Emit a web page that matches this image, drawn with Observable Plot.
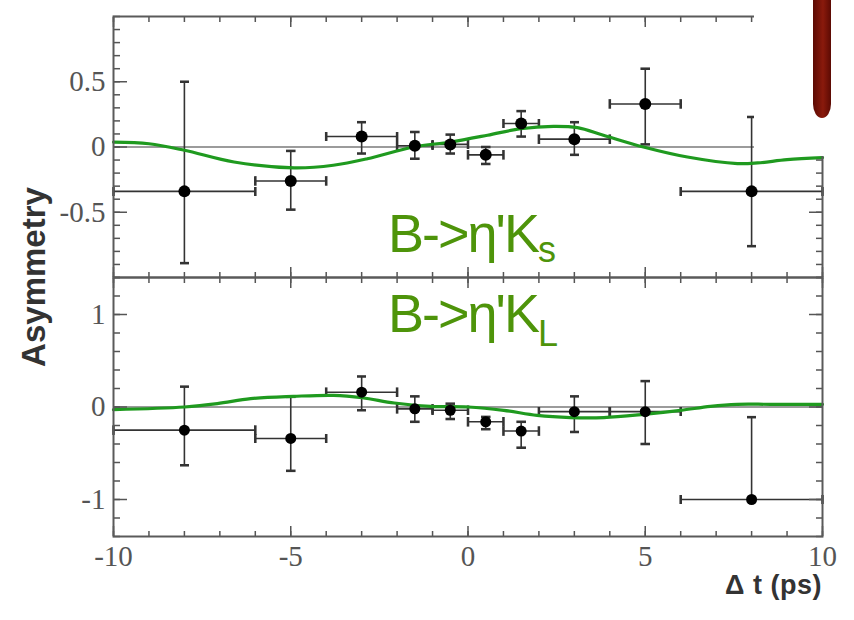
<!DOCTYPE html>
<html>
<head>
<meta charset="utf-8">
<script src="https://cdn.jsdelivr.net/npm/d3@7"></script>
<script src="https://cdn.jsdelivr.net/npm/@observablehq/plot@0.6"></script>
<style>
  body { margin: 0; background: white; }
  #wrap { position: relative; width: 854px; height: 620px; background: white; overflow: hidden; }
  #wrap svg { position: absolute; left: 0; }
  .green { position: absolute; font-family: "Liberation Sans", Arial, sans-serif; color: #4e940a; font-size: 54px; line-height: 1; letter-spacing: -2px; white-space: nowrap; }
  .green span { font-size: 36px; position: relative; letter-spacing: 0; }
</style>
</head>
<body>
<div id="wrap"></div>
<script>
// ---- Data: B -> eta' Ks (top panel) ----
const binX    = [-8, -5, -3, -1.5, -0.5, 0.5, 1.5, 3, 5, 8];
const binXlo  = [-10, -6, -4, -2, -1, 0, 1, 2, 4, 6];
const binXhi  = [-6, -4, -2, -1, 0, 1, 2, 4, 6, 10];

const ksY   = [-0.34, -0.26, 0.08, 0.01, 0.02, -0.06, 0.18, 0.06, 0.33, -0.34];
const ksYlo = [-0.89, -0.48, -0.05, -0.09, -0.05, -0.13, 0.08, -0.06, 0.02, -0.76];
const ksYhi = [0.50, -0.03, 0.19, 0.115, 0.095, 0.0, 0.275, 0.19, 0.60, 0.23];

const ksFitX = [-10, -9, -8, -6.6, -4.9, -3.8, -2.84, -1.54, -0.5, 0.55, 1.48, 2.41, 3.09, 3.82, 4.95, 6.19, 7.6, 8.17, 9.0, 10];
const ksFitY = [0.038, 0.025, -0.025, -0.115, -0.16, -0.14, -0.09, 0.0, 0.038, 0.09, 0.14, 0.158, 0.148, 0.09, 0.0, -0.077, -0.127, -0.122, -0.097, -0.081];

// ---- Data: B -> eta' KL (bottom panel) ----
const klY   = [-0.25, -0.34, 0.16, -0.02, -0.035, -0.16, -0.26, -0.05, -0.05, -1.0];
const klYlo = [-0.63, -0.69, -0.035, -0.16, -0.13, -0.24, -0.44, -0.27, -0.40, -1.0];
const klYhi = [0.22, 0.11, 0.33, 0.115, 0.036, -0.107, -0.16, 0.115, 0.28, -0.11];

const klFitX = [-10, -8, -7.07, -6.13, -4.92, -3.79, -2.98, -2.08, -1.06, 0, 1.01, 1.95, 2.89, 3.83, 4.96, 6.0, 6.84, 7.59, 8.53, 10];
const klFitY = [-0.028, 0.0, 0.036, 0.09, 0.115, 0.126, 0.10, 0.043, 0.007, 0.0, -0.036, -0.09, -0.114, -0.114, -0.079, -0.036, 0.007, 0.029, 0.029, 0.029];

// ---- Ticks ----
const xMajor = [-10, -5, 0, 5, 10];
const xMinor = [-10, -9, -8, -7, -6, -5, -4, -3, -2, -1, 0, 1, 2, 3, 4, 5, 6, 7, 8, 9, 10];
const ksYMajor = [-0.5, 0, 0.5];
const ksYMinor = [-1, -0.9, -0.8, -0.7, -0.6, -0.5, -0.4, -0.3, -0.2, -0.1, 0, 0.1, 0.2, 0.3, 0.4, 0.5, 0.6, 0.7, 0.8, 0.9, 1];
const klYMajor = [-1, 0, 1];
const klYMinor = [-1.4, -1.2, -1, -0.8, -0.6, -0.4, -0.2, 0, 0.2, 0.4, 0.6, 0.8, 1, 1.2, 1.4];

const pts = (ys, lo, hi) => binX.map((x, i) => ({x, xlo: binXlo[i], xhi: binXhi[i], y: ys[i], ylo: lo[i], yhi: hi[i]}));
const fit = (xs, ys) => xs.map((x, i) => ({x, y: ys[i]}));

const ksData = pts(ksY, ksYlo, ksYhi);
const klData = pts(klY, klYlo, klYhi);

const tickStyle = {fill: "none", stroke: "#555", strokeWidth: 1.5};
const labelFont = {fontFamily: "'Liberation Serif', 'Times New Roman', serif", fontSize: 29, fill: "#555", tickFormat: d => String(d), label: null};

function frameTicks(yMajor, yMinor) {
  return [
    Plot.axisY(yMinor, {anchor: "left", tickSize: -7, ...tickStyle}),
    Plot.axisY(yMajor, {anchor: "left", tickSize: -14, ...tickStyle}),
    Plot.axisY(yMinor, {anchor: "right", tickSize: -7, ...tickStyle}),
    Plot.axisY(yMajor, {anchor: "right", tickSize: -14, ...tickStyle}),
    Plot.axisX(xMinor, {anchor: "top", tickSize: -5, ...tickStyle}),
    Plot.axisX(xMajor, {anchor: "top", tickSize: -10, ...tickStyle}),
    Plot.axisX(xMinor, {anchor: "bottom", tickSize: -5, ...tickStyle}),
    Plot.axisX(xMajor, {anchor: "bottom", tickSize: -10, ...tickStyle})
  ];
}

function dataMarks(data, fitData, r) {
  return [
    Plot.ruleY([0], {stroke: "#7a7a7a", strokeWidth: 1.5}),
    Plot.link(data, {x1: "xlo", x2: "xhi", y1: "y", y2: "y", stroke: "#333", strokeWidth: 1.6, markerStart: "tick", markerEnd: "tick"}),
    Plot.link(data, {x1: "x", x2: "x", y1: "ylo", y2: "yhi", stroke: "#333", strokeWidth: 1.6, markerStart: "tick", markerEnd: "tick"}),
    Plot.line(fitData, {x: "x", y: "y", stroke: "#1f9a1f", strokeWidth: 3.2, curve: "catmull-rom"}),
    Plot.dot(data, {x: "x", y: "y", r, fill: "black", stroke: "none"})
  ];
}

const topPlot = Plot.plot({
  width: 854, height: 290,
  marginLeft: 113, marginRight: 32, marginTop: 16, marginBottom: 13,
  x: {domain: [-10, 10], axis: null},
  y: {domain: [-1, 1], axis: null},
  style: {background: "transparent", overflow: "visible"},
  marks: [
    ...dataMarks(ksData, fit(ksFitX, ksFitY), 6),
    ...frameTicks(ksYMajor, ksYMinor),
    Plot.axisY(ksYMajor, {anchor: "left", tickSize: 0, tickPadding: 8, ...labelFont}),
    Plot.frame({stroke: "#5a5a5a", strokeWidth: 2})
  ]
});

const botPlot = Plot.plot({
  width: 854, height: 356,
  marginLeft: 113, marginRight: 32, marginTop: 13, marginBottom: 84,
  x: {domain: [-10, 10], axis: null},
  y: {domain: [-1.4, 1.4], axis: null},
  style: {background: "transparent", overflow: "visible"},
  marks: [
    ...dataMarks(klData, fit(klFitX, klFitY), 5.5),
    ...frameTicks(klYMajor, klYMinor),
    Plot.axisY(klYMajor, {anchor: "left", tickSize: 0, tickPadding: 8, ...labelFont}),
    Plot.axisX(xMajor, {anchor: "bottom", tickSize: 0, tickPadding: 9, ...labelFont}),
    Plot.frame({stroke: "#5a5a5a", strokeWidth: 2})
  ]
});

const wrap = document.getElementById("wrap");
topPlot.style.top = "0px";
botPlot.style.top = "264px";
wrap.appendChild(topPlot);
wrap.appendChild(botPlot);

// Y label
const ylab = document.createElement("div");
ylab.textContent = "Asymmetry";
Object.assign(ylab.style, {position: "absolute", left: "33px", top: "277px", transform: "translate(-50%,-50%) rotate(-90deg)",
  fontFamily: "'Liberation Sans', Arial, sans-serif", fontWeight: "bold", fontSize: "33px", color: "#333", whiteSpace: "nowrap", lineHeight: "1"});
wrap.appendChild(ylab);

// X label
const xlab = document.createElement("div");
xlab.textContent = "\u0394 t (ps)";
Object.assign(xlab.style, {position: "absolute", right: "32px", top: "572px",
  fontFamily: "'Liberation Sans', Arial, sans-serif", fontWeight: "bold", fontSize: "27px", color: "#333", whiteSpace: "nowrap", lineHeight: "1", letterSpacing: "0.5px"});
wrap.appendChild(xlab);

// Green annotations
const g1 = document.createElement("div");
g1.className = "green";
g1.innerHTML = "B-&gt;\u03b7'K<span style=\"top:10px\">s</span>";
g1.style.left = "388px"; g1.style.top = "206px";
wrap.appendChild(g1);

const g2 = document.createElement("div");
g2.className = "green";
g2.innerHTML = "B-&gt;\u03b7'K<span style=\"top:14px\">L</span>";
g2.style.left = "388px"; g2.style.top = "286px";
wrap.appendChild(g2);

// White patch with maroon pointer in top-right corner
const patch = document.createElement("div");
Object.assign(patch.style, {position: "absolute", left: "754px", top: "0px", width: "100px", height: "156px", background: "white"});
const pointer = document.createElement("div");
Object.assign(pointer.style, {position: "absolute", left: "59px", top: "0px", width: "18px", height: "118px",
  background: "linear-gradient(to right, #5c0a03, #8a1a0c 55%, #5c0a03)", borderRadius: "0 0 50% 50% / 0 0 14px 14px"});
patch.appendChild(pointer);
wrap.appendChild(patch);
</script>
</body>
</html>
